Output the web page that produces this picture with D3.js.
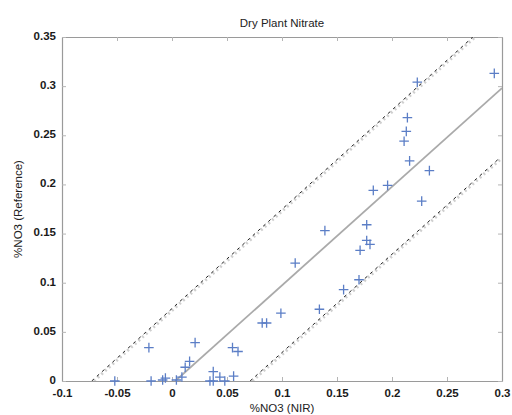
<!DOCTYPE html>
<html><head><meta charset="utf-8">
<script src="https://cdn.jsdelivr.net/npm/d3@7"></script>
<style>body{margin:0;background:#fff}text{font-family:Arial,"Liberation Sans",sans-serif}</style>
</head><body><svg id="c" width="512" height="415"></svg>
<script>
const title = "Dry Plant Nitrate";
const xLabel = "%NO3 (NIR)";
const yLabel = "%NO3 (Reference)";
const xTicks = [-0.1,-0.05,0,0.05,0.1,0.15,0.2,0.25,0.3];
const yTicks = [0,0.05,0.1,0.15,0.2,0.25,0.3,0.35];
const nirX = [0.293,0.223,0.214,0.213,0.211,0.216,0.234,0.196,0.183,0.227,
  0.139,0.177,0.177,0.180,0.171,0.112,0.170,0.156,0.134,0.099,0.082,0.086,
  -0.021,0.021,0.055,0.060,0.016,0.012,
  -0.052,-0.019,-0.0085,-0.006,0.004,0.009,0.0345,0.0375,0.0375,0.0435,0.048,0.056];
const refY = [0.313,0.304,0.268,0.254,0.244,0.224,0.214,0.199,0.194,0.183,
  0.153,0.159,0.143,0.139,0.133,0.120,0.103,0.093,0.073,0.069,0.059,0.059,
  0.034,0.039,0.034,0.030,0.020,0.014,
  0,0,0.001,0.003,0.001,0.004,0,0,0.0095,0.004,0,0.005];
const fitLine = [[0.003,0],[0.3,0.298]];
const upperBand = [[-0.071,0],[0.2755,0.35]];
const lowerBand = [[0.073,0],[0.3,0.227]];

const svg = d3.select("#c");
const L=62,R=502,T=37,B=381;
const x = d3.scaleLinear().domain([-0.1,0.3]).range([L,R]);
const y = d3.scaleLinear().domain([0,0.35]).range([B,T]);
const fmt = d => d===0 ? "0" : String(d);

svg.append("clipPath").attr("id","pc").append("rect").attr("x",L).attr("y",T).attr("width",R-L).attr("height",B-T);

const ax = svg.append("g").attr("transform",`translate(0,${B})`).call(d3.axisBottom(x).tickValues(xTicks).tickFormat(fmt).tickSizeInner(-4).tickSizeOuter(0).tickPadding(8));
const axT = svg.append("g").attr("transform",`translate(0,${T})`).call(d3.axisTop(x).tickValues(xTicks).tickFormat("").tickSizeInner(-4).tickSizeOuter(0));
const ay = svg.append("g").attr("transform",`translate(${L},0)`).call(d3.axisLeft(y).tickValues(yTicks).tickFormat(fmt).tickSizeInner(-4).tickSizeOuter(0).tickPadding(6));
const ayR = svg.append("g").attr("transform",`translate(${R},0)`).call(d3.axisRight(y).tickValues(yTicks).tickFormat("").tickSizeInner(-4).tickSizeOuter(0));
[ax,axT,ay,ayR].forEach(g=>{
  g.select(".domain").attr("stroke","#9a9a9a").attr("stroke-width",1.2);
  g.selectAll(".tick line").attr("stroke","#b5b5b5");
  g.selectAll(".tick text").attr("fill","#1a1a1a").style("font-size","11.5px").style("font-weight","bold").attr("font-family","Arial, 'Liberation Sans', sans-serif");
});
ay.selectAll(".tick text").attr("dy","0.2em");

const pg = svg.append("g").attr("clip-path","url(#pc)");
const line = d3.line().x(d=>x(d[0])).y(d=>y(d[1]));
[upperBand,lowerBand].forEach(b=>{
  pg.append("path").attr("d",line(b)).attr("fill","none").attr("stroke","#cfcfcf").attr("stroke-width",3).attr("stroke-dasharray","2,3");
  pg.append("path").attr("d",line(b.map(p=>[p[0]-0.002,p[1]]))).attr("fill","none").attr("stroke","#222").attr("stroke-width",1).attr("stroke-dasharray","3,4");
});
pg.append("path").attr("d",line(fitLine)).attr("fill","none").attr("stroke","#aaaaaa").attr("stroke-width",1.8);

const s=4.8;
svg.append("g").selectAll("path").data(nirX.map((v,i)=>[v,refY[i]])).join("path")
  .attr("d",d=>{const cx=x(d[0]),cy=y(d[1]);return `M${cx-s},${cy}H${cx+s}M${cx},${cy-s}V${cy+s}`;})
  .attr("stroke","#5b7ec6").attr("stroke-width",1.3).attr("fill","none");

svg.append("text").attr("x",(L+R)/2).attr("y",27).attr("text-anchor","middle").style("font-size","11.5px").attr("fill","#222").text(title);
svg.append("text").attr("x",(L+R)/2).attr("y",412).attr("text-anchor","middle").style("font-size","11.5px").attr("fill","#222").text(xLabel);
svg.append("text").attr("transform",`translate(22,${(T+B)/2}) rotate(-90)`).attr("text-anchor","middle").style("font-size","11.5px").attr("fill","#222").text(yLabel);
</script></body></html>
